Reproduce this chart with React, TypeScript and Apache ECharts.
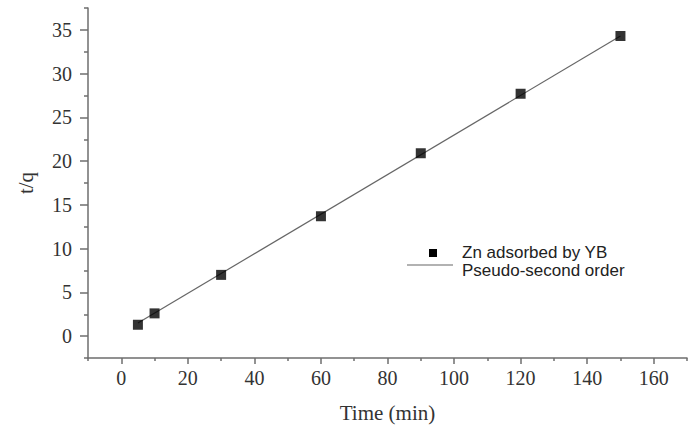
import React, { useEffect, useRef } from "react";
import * as echarts from "echarts";

const timeMin = [5, 10, 30, 60, 90, 120, 150];
const tOverQ = [1.3, 2.6, 7.0, 13.7, 20.9, 27.7, 34.3];
const fitX = [5, 150];
const fitY = [1.5, 34.3];
const xMajorTicks = [0, 20, 40, 60, 80, 100, 120, 140, 160];
const xMinorTicks = [-10, 10, 30, 50, 70, 90, 110, 130, 150, 170];
const yMajorTicks = [0, 5, 10, 15, 20, 25, 30, 35];
const yMinorTicks = [-2.5, 2.5, 7.5, 12.5, 17.5, 22.5, 27.5, 32.5, 37.5];
const legendNames = ["Zn adsorbed by YB", "Pseudo-second order"];

const SERIF = "Liberation Serif";
const SANS = "'Liberation Sans', Arial, sans-serif";
const AXIS_COLOR = "#6e6e6e";

export default function App() {
  const ref = useRef<HTMLDivElement>(null);
  useEffect(() => {
    if (!ref.current) return;
    const chart = echarts.init(ref.current, undefined, { renderer: "svg" });
    const axisLine = { show: true, onZero: false, lineStyle: { color: AXIS_COLOR, width: 1.5 } };
    const rich = { s: { fontFamily: SERIF, fontSize: 20, color: "#333" } };
    chart.setOption({
      animation: false,
      backgroundColor: "#fff",
      textStyle: { fontFamily: SERIF },
      grid: { left: 88, right: -6, top: 8, bottom: 66 },
      graphic: [
        { type: "rect", left: 429, top: 249, shape: { width: 8, height: 8 }, style: { fill: "#000" } },
        { type: "text", left: 462, top: 244, style: { text: legendNames[0], font: `17px ${SANS}`, fill: "#222" } },
        { type: "line", shape: { x1: 407, y1: 265, x2: 453, y2: 265 }, style: { stroke: "#666", lineWidth: 1.2 } },
        { type: "text", left: 462, top: 262, style: { text: legendNames[1], font: `17px ${SANS}`, fill: "#222" } },
      ],
      xAxis: [
        {
          type: "value",
          min: -10,
          max: 170,
          interval: 10,
          name: "Time (min)",
          nameLocation: "middle",
          nameGap: 44,
          nameTextStyle: { fontFamily: SERIF, fontSize: 21, color: "#333" },
          axisLine,
          axisTick: { show: true, customValues: xMajorTicks, length: 6, lineStyle: { color: AXIS_COLOR, width: 1.5 } },
          axisLabel: {
            margin: 10,
            fontFamily: SERIF,
            fontSize: 20,
            color: "#333",
            formatter: (v: number) => (xMajorTicks.includes(v) ? `{s|${v}}` : ""),
            rich,
          },
          splitLine: { show: false },
        },
        {
          type: "value",
          min: -10,
          max: 170,
          position: "bottom",
          axisLine: { show: false, onZero: false },
          axisTick: { show: true, customValues: xMinorTicks, length: 3, lineStyle: { color: AXIS_COLOR, width: 1.5 } },
          axisLabel: { show: false },
          splitLine: { show: false },
        },
      ],
      yAxis: [
        {
          type: "value",
          min: -2.5,
          max: 37.5,
          interval: 2.5,
          name: "t/q",
          nameLocation: "middle",
          nameGap: 52,
          nameTextStyle: { fontFamily: SERIF, fontSize: 21, color: "#333" },
          axisLine,
          axisTick: { show: true, customValues: yMajorTicks, length: 8, lineStyle: { color: AXIS_COLOR, width: 1.5 } },
          axisLabel: {
            margin: 16,
            fontFamily: SERIF,
            fontSize: 20,
            color: "#333",
            formatter: (v: number) => (yMajorTicks.includes(v) ? `{s|${v}}` : ""),
            rich,
          },
          splitLine: { show: false },
        },
        {
          type: "value",
          min: -2.5,
          max: 37.5,
          position: "left",
          axisLine: { show: false, onZero: false },
          axisTick: { show: true, customValues: yMinorTicks, length: 4, lineStyle: { color: AXIS_COLOR, width: 1.5 } },
          axisLabel: { show: false },
          splitLine: { show: false },
        },
      ],
      series: [
        {
          name: legendNames[1],
          type: "line",
          data: fitX.map((x, i) => [x, fitY[i]]),
          symbol: "none",
          lineStyle: { color: "#666", width: 1.2 },
          itemStyle: { color: "#666" },
        },
        {
          name: legendNames[0],
          type: "scatter",
          data: timeMin.map((x, i) => [x, tOverQ[i]]),
          symbol: "rect",
          symbolSize: 10,
          itemStyle: { color: "#000" },
          z: 3,
        },
      ],
    });
    return () => chart.dispose();
  }, []);
  return <div ref={ref} style={{ width: 690, height: 428, position: "absolute", left: 0, top: 0 }} />;
}
